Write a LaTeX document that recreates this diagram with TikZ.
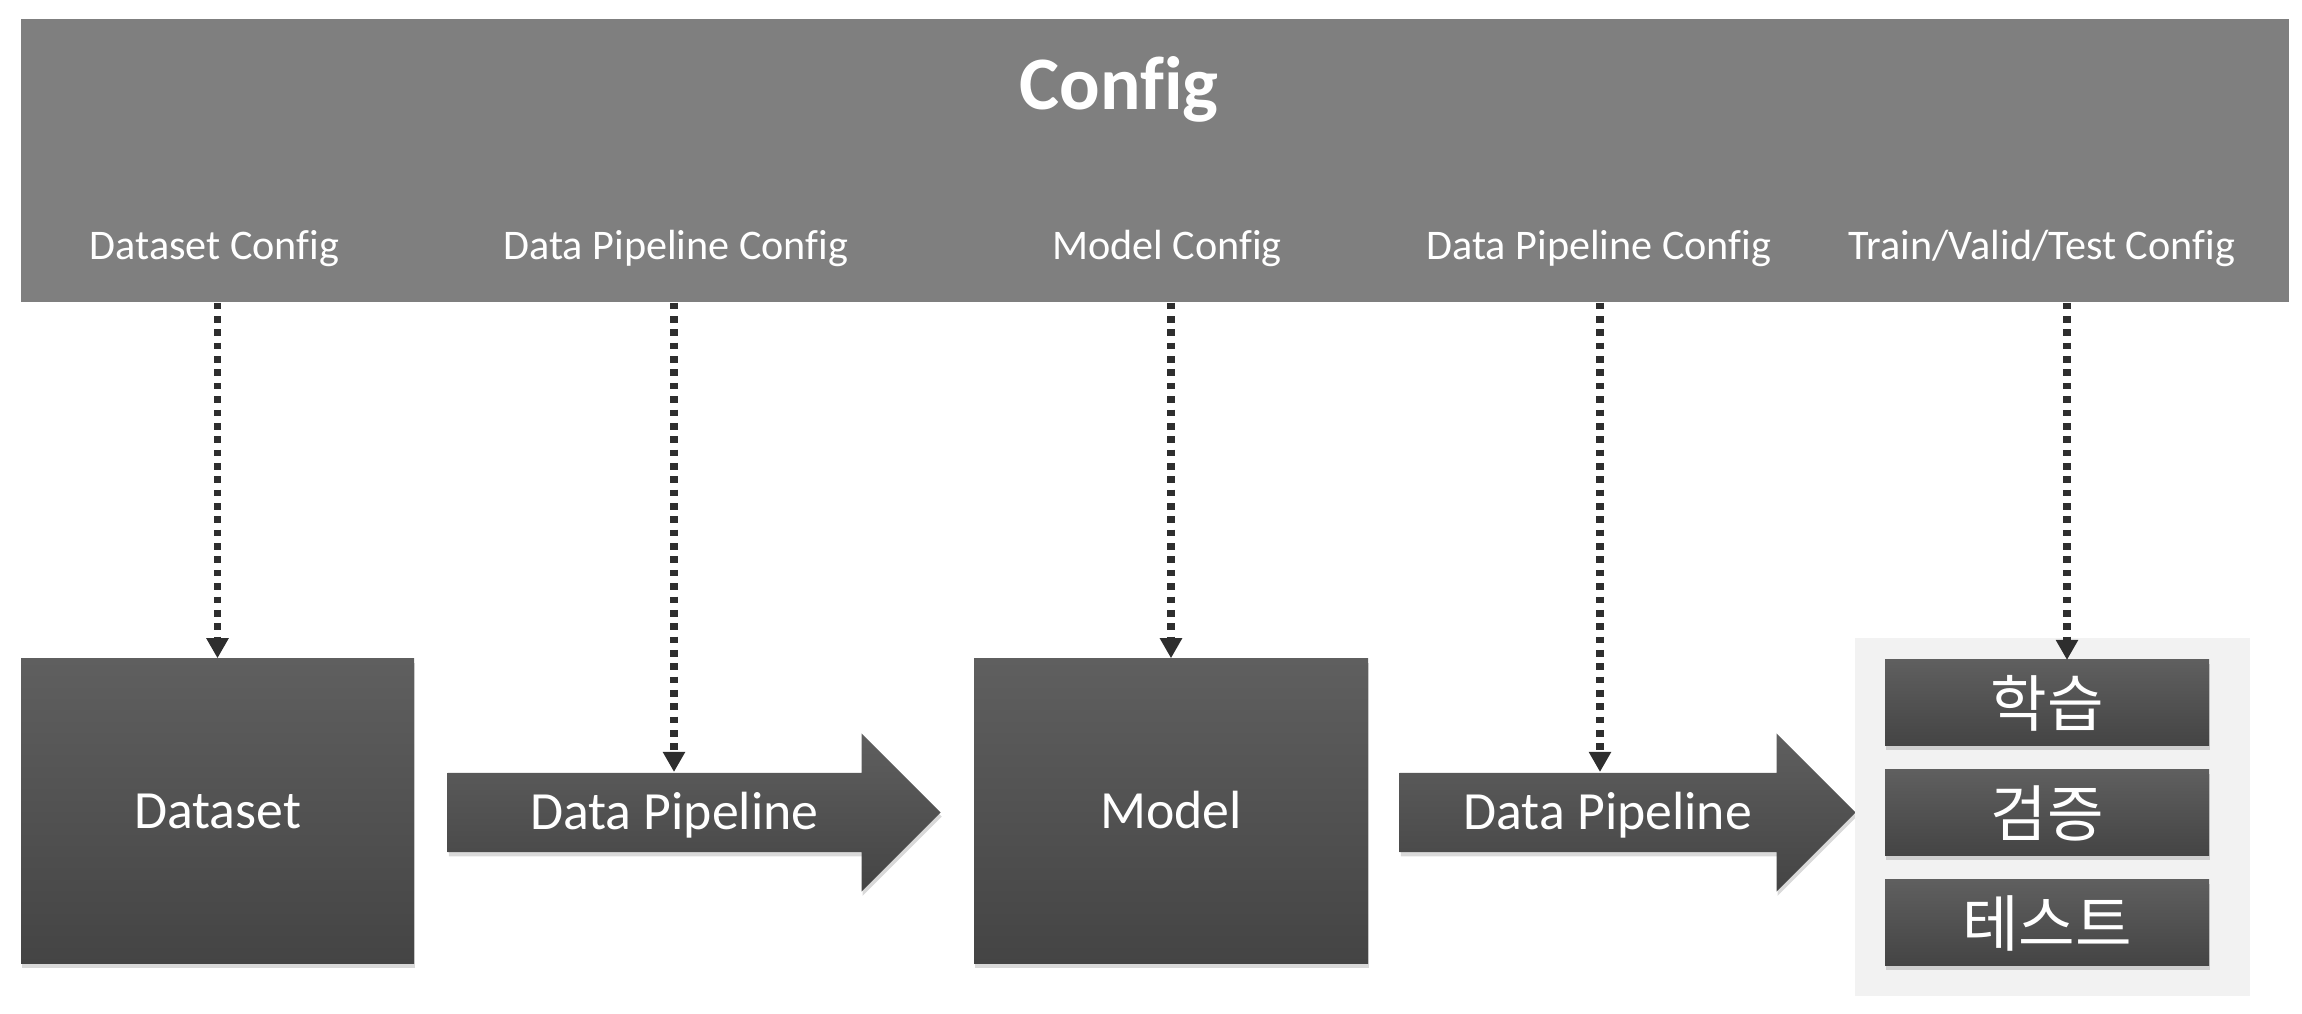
\documentclass[tikz,border=0pt]{standalone}
\usepackage{fontspec}
\setmainfont{Carlito}[Ligatures=NoCommon]
\newfontfamily\krfont{Noto Sans CJK KR}
\usetikzlibrary{arrows.meta,shapes.arrows,shadows}
\definecolor{cfggray}{HTML}{7F7F7F}
\definecolor{boxtop}{HTML}{5F5F5F}
\definecolor{boxbot}{HTML}{444444}
\definecolor{panelgray}{HTML}{F2F2F2}
\definecolor{linkgray}{HTML}{2E2E2E}
\tikzset{
  darkbox/.style={top color=boxtop, bottom color=boxbot, draw=none, text=white,
    font=\fontsize{15.3}{18}\selectfont, text height=9.85pt, text depth=0pt, inner sep=0pt,
    drop shadow={shadow xshift=0.3pt, shadow yshift=-1.2pt, opacity=0.3}},
  pipe/.style={darkbox, single arrow, single arrow head extend=0.395cm,
    single arrow tip angle=90, inner ysep=6.17pt, anchor=tail},
  phasebox/.style={darkbox, font=\krfont\fontsize{17.5}{20}\selectfont, text height=13.4pt,
    minimum width=3.24cm, minimum height=0.86cm},
  cfglabel/.style={text=white, font=\fontsize{12}{14}\selectfont, anchor=base, inner sep=0pt},
  cfgarrow/.style={draw=linkgray, line width=2pt, dash pattern=on 1.9pt off 1.9pt,
    -{Triangle[width=6pt,length=5.7pt]}}
}
\begin{document}
\begin{tikzpicture}
\useasboundingbox (0,0) rectangle (23.02,10.14);
% config bar
\node[fill=cfggray, minimum width=22.68cm, minimum height=2.83cm, inner sep=0pt] (cfg) at (11.55,8.535) {};
\node[text=white, font=\bfseries\fontsize{21.5}{24}\selectfont, text height=13.85pt, text depth=0pt, inner sep=0pt] (cfgtitle) at (11.19,9.29) {Config};
\node[cfglabel] (dscfg) at (2.145,7.54) {Dataset Config};
\node[cfglabel] (pipecfgA) at (6.76,7.54) {Data Pipeline Config};
\node[cfglabel] (modelcfg) at (11.67,7.54) {Model Config};
\node[cfglabel] (pipecfgB) at (15.99,7.54) {Data Pipeline Config};
\node[cfglabel] (runcfg) at (20.42,7.54) {Train/Valid/Test Config};
% pipeline
\node[darkbox, minimum width=3.93cm, minimum height=3.05cm] (dataset) at (2.175,2.025) {Dataset};
\node[pipe, minimum height=4.93cm] (pipeA) at (4.47,2.015) {Data Pipeline};
\node[darkbox, minimum width=3.94cm, minimum height=3.05cm] (model) at (11.71,2.025) {Model};
\node[pipe, minimum height=4.56cm] (pipeB) at (13.99,2.015) {Data Pipeline};
\node[fill=panelgray, minimum width=3.95cm, minimum height=3.58cm, inner sep=0pt] (panel) at (20.525,1.97) {};
\node[phasebox] (train) at (20.47,3.11) {학습};
\node[phasebox] (valid) at (20.47,2.01) {검증};
\node[phasebox] (test) at (20.47,0.915) {테스트};
% config links
\coordinate (pipeAin) at (6.74,2.42);
\coordinate (pipeBin) at (16.00,2.42);
\coordinate (trainin) at (20.67,3.54);
\draw[cfgarrow] (cfg.south -| dataset.north) -- (dataset.north);
\draw[cfgarrow] (cfg.south -| pipeAin) -- (pipeAin);
\draw[cfgarrow] (cfg.south -| model.north) -- (model.north);
\draw[cfgarrow] (cfg.south -| pipeBin) -- (pipeBin);
\draw[cfgarrow] (cfg.south -| trainin) -- (trainin);
\end{tikzpicture}
\end{document}
